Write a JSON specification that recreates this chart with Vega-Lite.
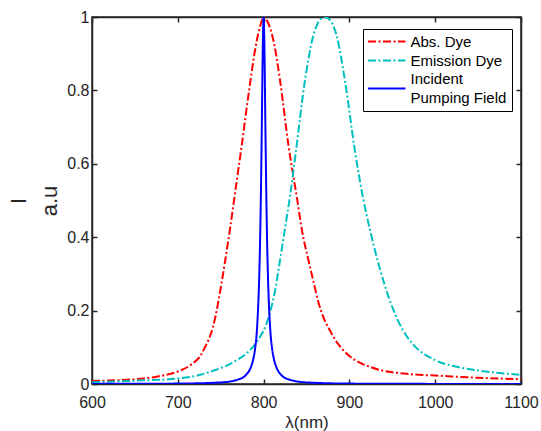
{
  "$schema": "https://vega.github.io/schema/vega-lite/v6.json",
  "width": 429,
  "height": 367,
  "autosize": {"type": "none"},
  "padding": {"left": 92, "top": 17, "right": 20, "bottom": 47},
  "background": "white",
  "config": {
    "font": "Liberation Sans",
    "view": {"stroke": "#262626", "strokeWidth": 1.5},
    "axis": {
      "grid": false,
      "labelFlush": false,
      "domainColor": "#262626",
      "domainWidth": 1.5,
      "tickColor": "#262626",
      "tickWidth": 1.5,
      "tickSize": -5,
      "labelColor": "#262626",
      "labelFontSize": 16,
      "labelFont": "Liberation Sans",
      "titleFont": "Liberation Sans",
      "titleFontWeight": "normal",
      "titleColor": "#262626"
    },
    "legend": {
      "labelFont": "Liberation Sans",
      "labelFontSize": 15,
      "labelColor": "#000000"
    }
  },
  "data": {
    "values": [
      {"s": "Abs. Dye", "wl": 600, "v": 0.008},
      {"s": "Abs. Dye", "wl": 625, "v": 0.010},
      {"s": "Abs. Dye", "wl": 650, "v": 0.013},
      {"s": "Abs. Dye", "wl": 675, "v": 0.020},
      {"s": "Abs. Dye", "wl": 700, "v": 0.034},
      {"s": "Abs. Dye", "wl": 715, "v": 0.052},
      {"s": "Abs. Dye", "wl": 726, "v": 0.076},
      {"s": "Abs. Dye", "wl": 731, "v": 0.097},
      {"s": "Abs. Dye", "wl": 737, "v": 0.127},
      {"s": "Abs. Dye", "wl": 741, "v": 0.155},
      {"s": "Abs. Dye", "wl": 744, "v": 0.185},
      {"s": "Abs. Dye", "wl": 747, "v": 0.222},
      {"s": "Abs. Dye", "wl": 751, "v": 0.275},
      {"s": "Abs. Dye", "wl": 755, "v": 0.333},
      {"s": "Abs. Dye", "wl": 761, "v": 0.425},
      {"s": "Abs. Dye", "wl": 766, "v": 0.508},
      {"s": "Abs. Dye", "wl": 770, "v": 0.575},
      {"s": "Abs. Dye", "wl": 774.5, "v": 0.650},
      {"s": "Abs. Dye", "wl": 779, "v": 0.730},
      {"s": "Abs. Dye", "wl": 784, "v": 0.815},
      {"s": "Abs. Dye", "wl": 788, "v": 0.880},
      {"s": "Abs. Dye", "wl": 792, "v": 0.935},
      {"s": "Abs. Dye", "wl": 796, "v": 0.975},
      {"s": "Abs. Dye", "wl": 800, "v": 1.0},
      {"s": "Abs. Dye", "wl": 805, "v": 0.985},
      {"s": "Abs. Dye", "wl": 812, "v": 0.930},
      {"s": "Abs. Dye", "wl": 819, "v": 0.830},
      {"s": "Abs. Dye", "wl": 829, "v": 0.650},
      {"s": "Abs. Dye", "wl": 839, "v": 0.505},
      {"s": "Abs. Dye", "wl": 845, "v": 0.415},
      {"s": "Abs. Dye", "wl": 852, "v": 0.340},
      {"s": "Abs. Dye", "wl": 858, "v": 0.280},
      {"s": "Abs. Dye", "wl": 864, "v": 0.222},
      {"s": "Abs. Dye", "wl": 870, "v": 0.180},
      {"s": "Abs. Dye", "wl": 877, "v": 0.147},
      {"s": "Abs. Dye", "wl": 885, "v": 0.115},
      {"s": "Abs. Dye", "wl": 893, "v": 0.092},
      {"s": "Abs. Dye", "wl": 900, "v": 0.076},
      {"s": "Abs. Dye", "wl": 912, "v": 0.058},
      {"s": "Abs. Dye", "wl": 925, "v": 0.046},
      {"s": "Abs. Dye", "wl": 936, "v": 0.038},
      {"s": "Abs. Dye", "wl": 950, "v": 0.032},
      {"s": "Abs. Dye", "wl": 975, "v": 0.026},
      {"s": "Abs. Dye", "wl": 1000, "v": 0.023},
      {"s": "Abs. Dye", "wl": 1050, "v": 0.017},
      {"s": "Abs. Dye", "wl": 1100, "v": 0.013},
      {"s": "Emission Dye", "wl": 600, "v": 0.005},
      {"s": "Emission Dye", "wl": 650, "v": 0.009},
      {"s": "Emission Dye", "wl": 700, "v": 0.015},
      {"s": "Emission Dye", "wl": 726, "v": 0.025},
      {"s": "Emission Dye", "wl": 741, "v": 0.036},
      {"s": "Emission Dye", "wl": 755, "v": 0.048},
      {"s": "Emission Dye", "wl": 768, "v": 0.064},
      {"s": "Emission Dye", "wl": 780, "v": 0.083},
      {"s": "Emission Dye", "wl": 790, "v": 0.108},
      {"s": "Emission Dye", "wl": 797, "v": 0.133},
      {"s": "Emission Dye", "wl": 803, "v": 0.162},
      {"s": "Emission Dye", "wl": 808, "v": 0.200},
      {"s": "Emission Dye", "wl": 813, "v": 0.250},
      {"s": "Emission Dye", "wl": 819, "v": 0.335},
      {"s": "Emission Dye", "wl": 825, "v": 0.425},
      {"s": "Emission Dye", "wl": 831, "v": 0.515},
      {"s": "Emission Dye", "wl": 838, "v": 0.640},
      {"s": "Emission Dye", "wl": 848, "v": 0.824},
      {"s": "Emission Dye", "wl": 858, "v": 0.950},
      {"s": "Emission Dye", "wl": 865, "v": 0.990},
      {"s": "Emission Dye", "wl": 871, "v": 1.0},
      {"s": "Emission Dye", "wl": 878, "v": 0.990},
      {"s": "Emission Dye", "wl": 885, "v": 0.950},
      {"s": "Emission Dye", "wl": 895, "v": 0.824},
      {"s": "Emission Dye", "wl": 906, "v": 0.642},
      {"s": "Emission Dye", "wl": 916, "v": 0.506},
      {"s": "Emission Dye", "wl": 924, "v": 0.420},
      {"s": "Emission Dye", "wl": 936, "v": 0.310},
      {"s": "Emission Dye", "wl": 946, "v": 0.235},
      {"s": "Emission Dye", "wl": 962, "v": 0.148},
      {"s": "Emission Dye", "wl": 975, "v": 0.106},
      {"s": "Emission Dye", "wl": 1000, "v": 0.065},
      {"s": "Emission Dye", "wl": 1025, "v": 0.047},
      {"s": "Emission Dye", "wl": 1050, "v": 0.037},
      {"s": "Emission Dye", "wl": 1075, "v": 0.030},
      {"s": "Emission Dye", "wl": 1100, "v": 0.025},
      {"s": "Incident Pumping Field", "wl": 600, "v": 0.0003},
      {"s": "Incident Pumping Field", "wl": 700, "v": 0.0011},
      {"s": "Incident Pumping Field", "wl": 750, "v": 0.0043},
      {"s": "Incident Pumping Field", "wl": 770, "v": 0.012},
      {"s": "Incident Pumping Field", "wl": 780, "v": 0.026},
      {"s": "Incident Pumping Field", "wl": 785, "v": 0.045},
      {"s": "Incident Pumping Field", "wl": 788, "v": 0.068},
      {"s": "Incident Pumping Field", "wl": 790, "v": 0.095},
      {"s": "Incident Pumping Field", "wl": 792, "v": 0.14},
      {"s": "Incident Pumping Field", "wl": 794, "v": 0.23},
      {"s": "Incident Pumping Field", "wl": 795, "v": 0.30},
      {"s": "Incident Pumping Field", "wl": 796, "v": 0.40},
      {"s": "Incident Pumping Field", "wl": 797, "v": 0.54},
      {"s": "Incident Pumping Field", "wl": 798, "v": 0.72},
      {"s": "Incident Pumping Field", "wl": 799, "v": 0.91},
      {"s": "Incident Pumping Field", "wl": 800, "v": 1.0},
      {"s": "Incident Pumping Field", "wl": 801, "v": 0.91},
      {"s": "Incident Pumping Field", "wl": 802, "v": 0.72},
      {"s": "Incident Pumping Field", "wl": 803, "v": 0.54},
      {"s": "Incident Pumping Field", "wl": 804, "v": 0.40},
      {"s": "Incident Pumping Field", "wl": 805, "v": 0.30},
      {"s": "Incident Pumping Field", "wl": 806, "v": 0.23},
      {"s": "Incident Pumping Field", "wl": 808, "v": 0.14},
      {"s": "Incident Pumping Field", "wl": 810, "v": 0.095},
      {"s": "Incident Pumping Field", "wl": 812, "v": 0.068},
      {"s": "Incident Pumping Field", "wl": 815, "v": 0.045},
      {"s": "Incident Pumping Field", "wl": 820, "v": 0.026},
      {"s": "Incident Pumping Field", "wl": 830, "v": 0.012},
      {"s": "Incident Pumping Field", "wl": 850, "v": 0.0043},
      {"s": "Incident Pumping Field", "wl": 900, "v": 0.0011},
      {"s": "Incident Pumping Field", "wl": 1000, "v": 0.0003},
      {"s": "Incident Pumping Field", "wl": 1100, "v": 0.0001}
    ]
  },
  "layer": [
    {
      "mark": {"type": "line", "interpolate": "monotone", "clip": true},
      "encoding": {
        "x": {
          "field": "wl", "type": "quantitative",
          "scale": {"domain": [600, 1100], "nice": false},
          "axis": {"orient": "bottom", "values": [600, 700, 800, 900, 1000, 1100], "format": "d", "title": "λ(nm)", "titleFontSize": 17, "labelPadding": 15, "titlePadding": 4}
        },
        "y": {
          "field": "v", "type": "quantitative",
          "scale": {"domain": [0, 1], "nice": false, "zero": true},
          "axis": {"orient": "left", "values": [0, 0.2, 0.4, 0.6, 0.8, 1], "format": "~g", "title": ["I", "a.u"], "titleFontSize": 22, "titleLineHeight": 31, "labelPadding": 8, "titlePadding": 5}
        },
        "strokeWidth": {
          "field": "s", "type": "nominal",
          "scale": {"domain": ["Abs. Dye", "Emission Dye", "Incident Pumping Field"], "range": [2, 2, 2.5]},
          "legend": null
        },
        "color": {
          "field": "s", "type": "nominal",
          "scale": {"domain": ["Abs. Dye", "Emission Dye", "Incident Pumping Field"], "range": ["#ff0000", "#00bfbf", "#0000ff"]},
          "legend": {
            "title": null,
            "orient": "none",
            "legendX": 271,
            "legendY": 12,
            "strokeColor": "#000000",
            "fillColor": "white",
            "padding": 5,
            "symbolType": "M-1.154,0H4.615",
            "symbolSize": 169,
            "symbolOffset": 0,
            "symbolStrokeWidth": 2,
            "labelOffset": 27.5,
            "rowPadding": 3,
            "labelExpr": "datum.label == 'Incident Pumping Field' ? ['Incident', 'Pumping Field'] : datum.label",
            "encoding": {"labels": {"dy": {"value": {"expr": "datum.value == 'Incident Pumping Field' ? -9.5 : 0"}}, "lineHeight": {"value": 19}}}
          }
        },
        "strokeDash": {
          "field": "s", "type": "nominal",
          "scale": {"domain": ["Abs. Dye", "Emission Dye", "Incident Pumping Field"], "range": [[8, 2.5, 2, 2.5], [8, 2.5, 2, 2.5], [1, 0]]},
          "legend": {
            "title": null,
            "orient": "none",
            "legendX": 271,
            "legendY": 12,
            "strokeColor": "#000000",
            "fillColor": "white",
            "padding": 5,
            "symbolType": "M-1.154,0H4.615",
            "symbolSize": 169,
            "symbolOffset": 0,
            "symbolStrokeWidth": 2,
            "labelOffset": 27.5,
            "rowPadding": 3,
            "labelExpr": "datum.label == 'Incident Pumping Field' ? ['Incident', 'Pumping Field'] : datum.label",
            "encoding": {"labels": {"dy": {"value": {"expr": "datum.value == 'Incident Pumping Field' ? -9.5 : 0"}}, "lineHeight": {"value": 19}}}
          }
        }
      }
    },
    {
      "mark": {"type": "point", "opacity": 0},
      "encoding": {
        "x": {
          "field": "wl", "type": "quantitative",
          "scale": {"domain": [600, 1100], "nice": false},
          "axis": {"orient": "top", "values": [600, 700, 800, 900, 1000, 1100], "labels": false, "title": null}
        },
        "y": {
          "field": "v", "type": "quantitative",
          "scale": {"domain": [0, 1], "nice": false, "zero": true},
          "axis": {"orient": "right", "values": [0, 0.2, 0.4, 0.6, 0.8, 1], "labels": false, "title": null}
        }
      }
    }
  ],
  "resolve": {"axis": {"x": "independent", "y": "independent"}}
}
